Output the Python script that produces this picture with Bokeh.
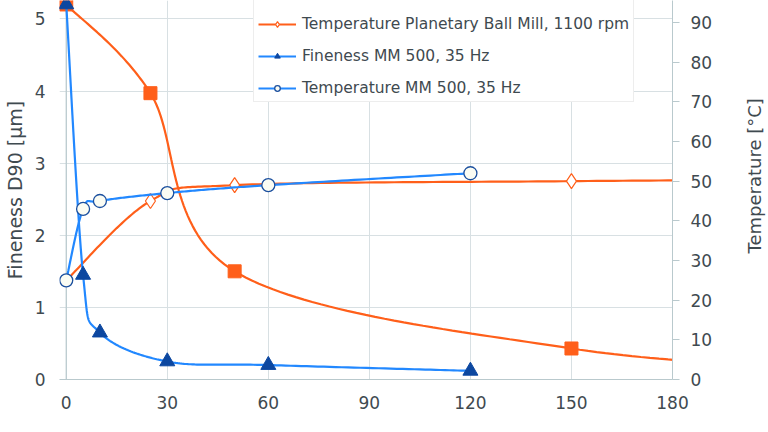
import math
import numpy as np
from bokeh.plotting import figure
from bokeh.layouts import row
from bokeh.models import (Range1d, LinearAxis, FixedTicker, Legend, LegendItem, Span, Title)
from bokeh.embed import file_html
from bokeh.resources import INLINE

# ---- data ----
pbm_time = [0, 25, 50, 150, 240]
pbm_fineness = [5.2, 3.97, 1.5, 0.43, 0.12]          # µm, left axis
pbm_temp_time = [0, 25, 50, 150, 240]
pbm_temp = [25, 45, 49, 50, 50.5]                    # °C, right axis

mm_time = [0, 5, 10, 30, 60, 120]
mm_fineness = [5.2, 1.45, 0.65, 0.25, 0.2, 0.12]     # µm, left axis
mm_temp = [25, 43, 45, 47, 49, 52]                   # °C, right axis

x_ticks = [0, 30, 60, 90, 120, 150, 180]
y_left_ticks = [0, 1, 2, 3, 4, 5]
y_right_ticks = [0, 10, 20, 30, 40, 50, 60, 70, 80, 90]

labels = ["Fineness Planetary Ball Mill, 1100 rpm",
          "Temperature Planetary Ball Mill, 1100 rpm",
          "Fineness MM 500, 35 Hz",
          "Temperature MM 500, 35 Hz"]
left_title = "Fineness D90 [µm]"
right_title = "Temperature [°C]"

ORANGE = "#ff5f1a"
BLUE = "#2288ff"
DARK_BLUE = "#0c47a0"
CIRCLE_EDGE = "#1b4f9e"
TEXT = "#3f4a50"
GRID = "#d8e0e3"
AXIS = "#b9c9cd"
FONT = "DejaVu Sans"

YL_END = 5.255
YR_END = 95.55


def smooth(xs, ys, sx, sy, n=40):
    """Catmull-Rom (Excel-like smoothed line) in screen-proportional space."""
    P = np.column_stack([np.asarray(xs, float) * sx, np.asarray(ys, float) * sy])
    out = [P[0]]
    for i in range(len(P) - 1):
        p0 = P[i - 1] if i > 0 else P[i]
        p1, p2 = P[i], P[i + 1]
        p3 = P[i + 2] if i + 2 < len(P) else P[i + 1]
        c1 = p1 + (p2 - p0) / 6.0
        c2 = p2 - (p3 - p1) / 6.0
        t = np.linspace(0, 1, n)[1:, None]
        seg = ((1 - t) ** 3) * p1 + 3 * ((1 - t) ** 2) * t * c1 + 3 * (1 - t) * t ** 2 * c2 + t ** 3 * p2
        out.extend(seg)
    out = np.array(out)
    return out[:, 0] / sx, out[:, 1] / sy


SX = 3.374
SYL = 72.1
SYR = 3.967

p = figure(width=739, height=432, output_backend="svg", toolbar_location=None,
           x_range=Range1d(-2, 180), y_range=Range1d(0, YL_END),
           min_border_left=58, min_border_right=67, min_border_top=0,
           min_border_bottom=53, outline_line_color=None,
           background_fill_color="white", border_fill_color="white")
p.extra_y_ranges = {"temp": Range1d(0, YR_END)}

# grids
p.xgrid.ticker = FixedTicker(ticks=x_ticks)
p.ygrid.ticker = FixedTicker(ticks=y_left_ticks)
for g in (p.xgrid, p.ygrid):
    g.grid_line_color = GRID
    g.grid_line_width = 1

p.add_layout(Span(location=0, dimension="height", line_color=AXIS,
                  line_width=1.2, level="underlay"))

# axes
xa = p.xaxis[0]
xa.ticker = FixedTicker(ticks=x_ticks)
ya = p.yaxis[0]
ya.ticker = FixedTicker(ticks=y_left_ticks)
ya.axis_label = left_title
ya.axis_line_color = None
ya.major_label_standoff = 8
ya.axis_label_standoff = 6
ya.axis_label_text_font = FONT
ya.axis_label_text_font_size = "19px"
ya.axis_label_text_font_style = "normal"
ya.axis_label_text_color = TEXT

ra = LinearAxis(y_range_name="temp", ticker=FixedTicker(ticks=y_right_ticks))
p.add_layout(ra, "right")
ra.major_tick_out = 7
ra.major_tick_in = 0
ra.major_label_standoff = 11

xa.major_label_standoff = 10
xa.axis_line_color = AXIS

for ax in (xa, ya, ra):
    ax.minor_tick_line_color = None
    ax.major_label_text_font = FONT
    ax.major_label_text_font_size = "17px"
    ax.major_label_text_color = TEXT
for ax in (xa, ya):
    ax.major_tick_line_color = None
ra.major_tick_line_color = AXIS
ra.axis_line_color = AXIS

# --- series ---
# Fineness Planetary Ball Mill (orange squares)
sx, sy = smooth(pbm_time, pbm_fineness, SX, SYL)
l1 = p.line(sx, sy, line_color=ORANGE, line_width=2.2)
m1 = p.scatter(pbm_time, pbm_fineness, marker="square", size=13,
               fill_color=ORANGE, line_color=ORANGE)

# Temperature Planetary Ball Mill (orange diamonds)
sx, sy = smooth(pbm_temp_time, pbm_temp, SX, SYR)
l2 = p.line(sx, sy, line_color=ORANGE, line_width=2.2, y_range_name="temp")
m2 = p.scatter(pbm_temp_time[1:], pbm_temp[1:], marker="diamond", size=15,
               fill_color="white", line_color=ORANGE, line_width=1.2,
               y_range_name="temp")

# Fineness MM 500 (blue triangles)
sx, sy = smooth(mm_time, mm_fineness, SX, SYL)
l3 = p.line(sx, sy, line_color=BLUE, line_width=2.2)
m3 = p.scatter(mm_time, mm_fineness, marker="triangle", size=15,
               fill_color=DARK_BLUE, line_color=DARK_BLUE)

# Temperature MM 500 (blue circles)
sx, sy = smooth(mm_time, mm_temp, SX, SYR)
l4 = p.line(sx, sy, line_color=BLUE, line_width=2.2, y_range_name="temp")
m4 = p.scatter(mm_time, mm_temp, marker="circle", size=13,
               fill_color="#fbfcf3", line_color=CIRCLE_EDGE, line_width=1.3,
               y_range_name="temp")

legend = Legend(items=[
    LegendItem(label=labels[0], renderers=[l1, m1]),
    LegendItem(label=labels[1], renderers=[l2, m2]),
    LegendItem(label=labels[2], renderers=[l3, m3]),
    LegendItem(label=labels[3], renderers=[l4, m4]),
], location=(194, 277))
legend.label_text_font = FONT
legend.label_text_font_size = "15.5px"
legend.label_text_color = TEXT
legend.glyph_width = 38
legend.glyph_height = 14
legend.label_height = 14
legend.spacing = 14
legend.padding = 4
legend.margin = 0
legend.label_standoff = 6
legend.border_line_color = "#dcdcdc"
legend.background_fill_color = "white"
legend.background_fill_alpha = 1.0
p.add_layout(legend, "center")

# narrow side strip carrying the right-hand title, read bottom-to-top
side = figure(width=29, height=432, output_backend="svg", toolbar_location=None,
              x_axis_location=None, y_axis_location=None,
              min_border_left=0, min_border_right=0, min_border_top=0,
              min_border_bottom=53, outline_line_color=None,
              background_fill_color="white", border_fill_color="white")
side.grid.visible = False
side.add_layout(Title(text=right_title, align="left", text_font=FONT,
                      text_font_size="18px", text_font_style="normal",
                      text_color=TEXT, standoff=4, offset=126), "left")

layout = row(p, side)
open("out.html", "w").write(file_html(layout, INLINE))
